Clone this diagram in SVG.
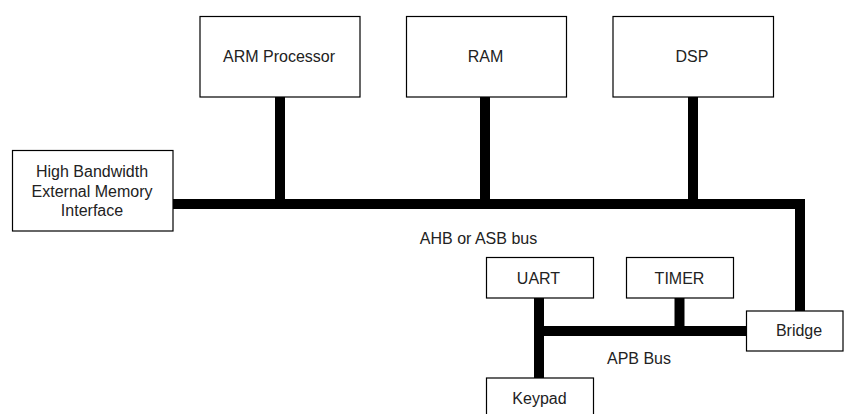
<svg xmlns="http://www.w3.org/2000/svg" width="844" height="414" viewBox="0 0 844 414">
<style>
.box{fill:#fff;stroke:#000;stroke-width:1.2}
.t{font-family:"Liberation Sans",Arial,sans-serif;font-size:16px;fill:#222;text-anchor:middle}
.bus{fill:none;stroke:#000;stroke-width:10;stroke-linejoin:miter}
</style>
<rect width="844" height="414" fill="#fff"/>
<g id="connectors">
<path class="bus" d="M173 204 H800 V311"/>
<path class="bus" d="M280 97 V204"/>
<path class="bus" d="M485 97 V204"/>
<path class="bus" d="M693 97 V204"/>
<path class="bus" d="M746 331 H534"/>
<path class="bus" d="M539 298 V378"/>
<path class="bus" d="M679.5 298 V326"/>
</g>
<g id="arm"><rect class="box" x="200" y="16.5" width="160" height="80.5"/><text class="t" x="279" y="62">ARM Processor</text></g>
<g id="ram"><rect class="box" x="406.5" y="16.5" width="160" height="80.5"/><text class="t" x="485.5" y="62">RAM</text></g>
<g id="dsp"><rect class="box" x="613" y="16.5" width="160.5" height="80.5"/><text class="t" x="692" y="62">DSP</text></g>
<g id="hbemi"><rect class="box" x="12.5" y="150.5" width="160.5" height="80.5"/><text class="t" x="92" y="177">High Bandwidth</text><text class="t" x="92" y="196.5">External Memory</text><text class="t" x="92" y="216">Interface</text></g>
<g id="ahb-label"><text class="t" x="478.5" y="243.5">AHB or ASB bus</text></g>
<g id="uart"><rect class="box" x="486.5" y="257.5" width="107" height="40.5"/><text class="t" x="538.5" y="283.5">UART</text></g>
<g id="timer"><rect class="box" x="626.5" y="257.5" width="107" height="40.5"/><text class="t" x="679.5" y="283.5">TIMER</text></g>
<g id="bridge"><rect class="box" x="746.5" y="311" width="96.5" height="40"/><text class="t" x="799" y="336">Bridge</text></g>
<g id="apb-label"><text class="t" x="639" y="364">APB Bus</text></g>
<g id="keypad"><rect class="box" x="486.5" y="378" width="107" height="41"/><text class="t" x="539.5" y="403.5">Keypad</text></g>
</svg>
